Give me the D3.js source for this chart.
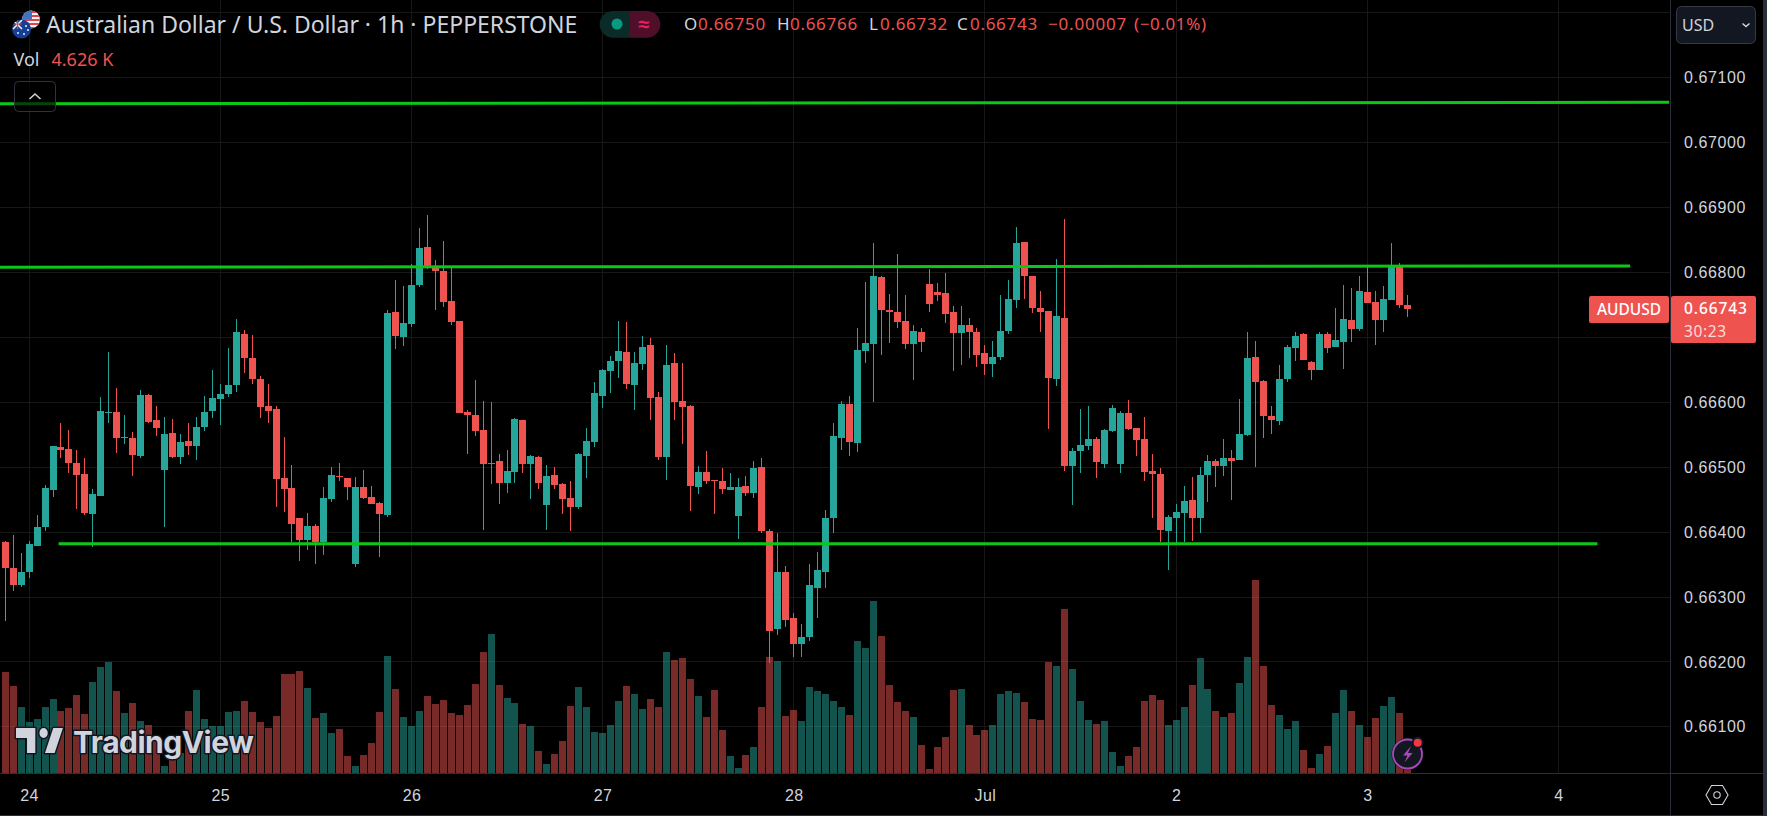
<!DOCTYPE html>
<html>
<head>
<meta charset="utf-8">
<title>AUDUSD 1h</title>
<script src="https://cdn.jsdelivr.net/npm/d3@7"></script>
<style>
  html, body { margin: 0; padding: 0; background: #000; overflow: hidden; }
  svg { display: block; font-family: "Noto Sans", sans-serif; }
  .axis-label { fill: #d1d4dc; font-size: 17px; }
  .axis text { fill: #d1d4dc; font-size: 16px; }
  .grid line { stroke: #171717; shape-rendering: crispEdges; }
  .grid path, .grid text { display: none; }
</style>
</head>
<body>
<svg id="chart" width="1767" height="816"></svg>
<script>
// prices are kept in points (1 point = 0.00001)
const opens = [
  66384,66344,66319,66338,66379,66408,66465,66531,66528,66507,
  66490,66428,66456,66584,66585,66545,66545,66518,66611,66573,
  66496,66553,66516,66541,66533,66562,66587,66605,66613,66627,
  66705,66668,66636,66594,66590,66484,66468,66421,66388,66410,
  66384,66451,66487,66484,66351,66470,66454,66445,66427,66739,
  66701,66721,66781,66839,66810,66802,66756,66725,66585,66581,
  66557,66505,66510,66476,66493,66573,66505,66516,66442,66488,
  66474,66453,66438,66518,66539,66610,66648,66664,66678,66627,
  66659,66688,66608,66516,66661,66602,66594,66470,66493,66481,
  66479,66465,66425,66471,66461,66501,66401,66251,66339,66267,
  66228,66238,66314,66339,66422,66545,66598,66538,66679,66690,
  66793,66742,66739,66725,66690,66708,66782,66770,66768,66739,
  66707,66719,66708,66676,66659,66670,66710,66758,66847,66794,
  66745,66741,66636,66730,66502,66525,66533,66544,66505,66556,
  66505,66584,66561,66544,66494,66490,66402,66422,66430,66450,
  66422,66488,66510,66502,66514,66511,66550,66670,66633,66579,
  66571,66636,66684,66705,66662,66650,66705,66685,66693,66727,
  66713,66770,66754,66727,66758,66808,66750
];
const closes = [
  66344,66318,66339,66381,66408,66468,66533,66527,66507,66488,
  66430,66459,66587,66585,66545,66547,66519,66611,66570,66561,
  66551,66516,66539,66533,66562,66585,66607,66613,66627,66708,
  66668,66636,66593,66587,66482,66467,66413,66388,66410,66384,
  66453,66488,66485,66470,66470,66453,66444,66428,66738,66702,
  66722,66781,66838,66807,66802,66754,66724,66584,66581,66556,
  66505,66507,66476,66494,66574,66505,66518,66476,66487,66473,
  66451,66438,66521,66541,66614,66650,66664,66679,66628,66661,
  66685,66607,66516,66658,66601,66593,66471,66493,66479,66478,
  66467,66470,66470,66461,66499,66401,66248,66339,66265,66228,
  66239,66318,66341,66422,66548,66598,66539,66681,66691,66794,
  66742,66739,66724,66690,66710,66693,66751,66765,66736,66707,
  66719,66708,66673,66659,66670,66710,66759,66845,66794,66745,
  66739,66638,66733,66502,66525,66534,66544,66508,66557,66591,
  66584,66559,66542,66493,66490,66404,66424,66431,66448,66422,
  66488,66510,66502,66514,66510,66551,66668,66631,66579,66573,
  66636,66685,66702,66665,66650,66705,66684,66696,66728,66713,
  66771,66753,66727,66759,66808,66750,66743
];
const highs = [
  66387,66396,66368,66387,66427,66473,66533,66568,66557,66527,
  66514,66467,66608,66678,66622,66581,66554,66619,66613,66594,
  66578,66574,66551,66568,66578,66610,66650,66628,66684,66728,
  66711,66704,66641,66628,66594,66547,66504,66421,66430,66413,
  66470,66501,66507,66484,66485,66496,66471,66447,66742,66788,
  66779,66813,66868,66888,66819,66848,66808,66725,66588,66634,
  66602,66601,66521,66527,66576,66573,66519,66518,66504,66501,
  66476,66478,66522,66561,66631,66651,66671,66725,66724,66678,
  66702,66699,66616,66688,66676,66661,66596,66502,66525,66481,
  66498,66491,66484,66487,66510,66514,66405,66398,66348,66276,
  66258,66351,66370,66434,66568,66602,66610,66714,66785,66845,
  66794,66767,66828,66765,66719,66714,66805,66784,66799,66748,
  66748,66730,66714,66688,66694,66765,66788,66870,66847,66794,
  66771,66741,66821,66882,66530,66590,66594,66547,66559,66596,
  66587,66604,66561,66578,66521,66498,66427,66444,66471,66485,
  66501,66519,66513,66544,66527,66605,66708,66694,66634,66594,
  66658,66688,66708,66707,66664,66708,66708,66745,66781,66776,
  66794,66808,66771,66779,66845,66814,66766
];
const lows = [
  66263,66310,66316,66330,66379,66402,66454,66514,66491,66436,
  66427,66377,66456,66568,66522,66536,66487,66514,66568,66548,
  66408,66514,66505,66519,66511,66556,66576,66565,66608,66616,
  66645,66628,66576,66568,66438,66431,66384,66356,66373,66351,
  66365,66447,66478,66450,66347,66451,66444,66361,66424,66682,
  66687,66716,66778,66805,66742,66747,66719,66584,66521,66548,
  66404,66474,66444,66461,66476,66491,66451,66467,66404,66467,
  66428,66401,66436,66484,66531,66591,66614,66638,66621,66588,
  66650,66573,66511,66481,66573,66536,66433,66458,66474,66428,
  66458,66465,66390,66456,66453,66398,66199,66242,66254,66207,
  66207,66233,66267,66314,66398,66527,66518,66524,66661,66601,
  66673,66691,66714,66682,66634,66678,66739,66756,66722,66648,
  66658,66668,66654,66642,66639,66665,66705,66745,66759,66738,
  66708,66559,66625,66494,66441,66491,66527,66484,66498,66554,
  66491,66557,66518,66478,66421,66385,66342,66381,66384,66387,
  66398,66447,66470,66487,66450,66511,66548,66501,66545,66551,
  66565,66631,66664,66665,66634,66650,66676,66685,66651,66693,
  66710,66753,66688,66708,66758,66745,66732
];
// volume in K
const volumes = [
  91.2,78.6,59.7,46.2,48.9,59.7,66.9,56.1,58.8,70.5,
  53.4,82.2,95.7,100.2,74.1,54.3,63.3,47.1,43.5,33,
  6.6,16.5,18,56.1,75,48.9,42.6,42.6,55.2,56.1,
  65.1,55.2,46.2,40.8,51.6,89.4,89.4,92.1,76.8,49.8,
  54.3,36.3,39.9,15.6,6.6,16.5,27.3,55.2,105.6,75.9,
  50.7,42.6,56.1,69.6,62.4,66,54.3,52.5,61.5,80.4,
  109.2,125.4,79.5,67.8,63.3,44.4,42.6,20.1,8.4,17.4,
  29.1,60.6,77.7,59.7,37.2,36.3,43.5,65.1,78.6,71.4,
  57.9,66.9,59.7,109.2,102,103.8,84.9,69.6,50.7,75,
  39,15.6,4.8,16.5,23.7,59.7,104.7,101.1,51.6,57,
  47.1,77.7,74.1,71.4,65.1,59.7,52.5,119.1,112.8,155.1,
  123.6,79.5,64.2,56.1,50.7,25.5,3.9,23.7,32.7,75,
  75.9,43.5,34.5,39,43.5,71.4,74.1,72.3,64.2,48.9,
  48,100.2,96.6,147.9,93.9,65.1,48,44.4,47.1,19.2,
  6.6,15.6,23.7,65.1,70.5,66,43.5,48,59.7,79.5,
  103.8,75.9,56.1,50.7,54.3,81.3,104.7,174,96.6,61.5,
  52.5,39.9,47.1,21,4.8,17.4,24.6,54.3,75,56.1,
  43.5,32.7,49.8,60.6,68.7,54.3,4.626
];

const priceGrid = [67200,67100,67000,66900,66800,66700,66600,66500,66400,66300,66200,66100];
const priceTicks = [67100,67000,66900,66800,66700,66600,66500,66400,66300,66200,66100];
const dayBars = [3,27,51,75,99,123,147,171,195];
const dayLabels = ['24','25','26','27','28','Jul','2','3','4'];

// the three horizontal levels, in bar index and points
const levelFromBar = [-0.7,-0.7,6.7];
const levelToBar = [208.9,204,199.9];
const levelFromPrice = [67060,66808,66382];
const levelToPrice = [67062,66810,66382];

const ohlcNames = ['O','H','L','C'];
const ohlcValues = ['0.66750','0.66766','0.66732','0.66743'];
const ohlcNameX = [684,777,869,957];
const ohlcValueX = [698,790,880,970];

const upColor = '#26a69a';
const downColor = '#ef5350';
const levelColor = '#0cc816';
const lineColor = '#2a2e39';
const paneRight = 1670, paneBottom = 773;

const svg = d3.select('#chart');
const x = d3.scaleLinear().domain([0,176]).range([5.215,1407.11]);
const y = d3.scaleLinear().domain([67200,66100]).range([12.75,726.87]);
const yVol = d3.scaleLinear().domain([0,174]).range([paneBottom,580]);
const barX = i => Math.floor(x(i));

// grid
const gridY = svg.append('g').attr('class','grid')
  .call(d3.axisRight(y).tickValues(priceGrid).tickSize(paneRight).tickFormat(''));
gridY.selectAll('.tick').attr('transform', d => `translate(0,${Math.floor(y(d))+.5})`);
gridY.selectAll('text').remove();
const gridX = svg.append('g').attr('class','grid')
  .call(d3.axisBottom(x).tickValues(dayBars).tickSize(paneBottom).tickFormat(''));
gridX.selectAll('.tick').attr('transform', d => `translate(${barX(d)+.5},0)`);
gridX.selectAll('text').remove();

// volume
svg.append('g').selectAll('rect').data(volumes).join('rect')
  .attr('x', (d,i) => barX(i)-3)
  .attr('width', 7)
  .attr('y', d => Math.round(yVol(d)))
  .attr('height', d => paneBottom-Math.round(yVol(d)))
  .attr('fill', (d,i) => closes[i] >= opens[i] ? upColor : downColor)
  .attr('fill-opacity', .5)
  .attr('shape-rendering','crispEdges');

// candles
const candle = svg.append('g').attr('shape-rendering','crispEdges')
  .selectAll('g').data(opens).join('g')
  .attr('fill', (d,i) => closes[i] >= d ? upColor : downColor);
candle.append('rect')
  .attr('x', (d,i) => barX(i))
  .attr('width', 1)
  .attr('y', (d,i) => Math.round(y(highs[i])))
  .attr('height', (d,i) => Math.round(y(lows[i]))-Math.round(y(highs[i])));
candle.append('rect')
  .attr('x', (d,i) => barX(i)-3)
  .attr('width', 7)
  .attr('y', (d,i) => Math.round(y(Math.max(d,closes[i]))))
  .attr('height', (d,i) => Math.max(1,Math.round(y(Math.min(d,closes[i])))-Math.round(y(Math.max(d,closes[i])))));

// levels
svg.append('g').selectAll('line').data(levelFromBar).join('line')
  .attr('x1', d => x(d))
  .attr('x2', (d,i) => Math.min(x(levelToBar[i]),paneRight))
  .attr('y1', (d,i) => y(levelFromPrice[i]))
  .attr('y2', (d,i) => y(levelToPrice[i]))
  .attr('stroke', levelColor)
  .attr('stroke-width', 3);

// price axis and time axis
const axisY = svg.append('g').attr('class','axis')
  .attr('transform',`translate(${paneRight},0)`)
  .call(d3.axisRight(y).tickValues(priceTicks).tickSize(0).tickFormat(d => (d/1e5).toFixed(5)));
axisY.select('.domain').remove();
axisY.selectAll('text').attr('x',14).attr('letter-spacing','.6px');

const axisX = svg.append('g').attr('class','axis')
  .attr('transform','translate(0,788)')
  .call(d3.axisBottom(x).tickValues(dayBars).tickSize(0).tickPadding(0)
    .tickFormat((d,i) => dayLabels[i]));
axisX.select('.domain').remove();
axisX.selectAll('text').attr('dy','.35em').attr('y',7).attr('letter-spacing','.4px');

// borders
svg.append('rect').attr('x',paneRight).attr('y',0).attr('width',1).attr('height',816).attr('fill',lineColor);
svg.append('rect').attr('x',0).attr('y',paneBottom).attr('width',1763).attr('height',1).attr('fill',lineColor);
svg.append('rect').attr('x',1763).attr('y',0).attr('width',4).attr('height',816).attr('fill',lineColor);
svg.append('rect').attr('x',0).attr('y',815).attr('width',1767).attr('height',1).attr('fill',lineColor);

// last price labels
svg.append('rect').attr('x',1589).attr('y',296).attr('width',80).attr('height',27).attr('rx',2).attr('fill',downColor);
svg.append('rect').attr('x',1671).attr('y',296).attr('width',85).attr('height',47).attr('rx',2).attr('fill',downColor);
svg.append('text').attr('x',1629).attr('y',310).attr('dy','.35em').attr('text-anchor','middle')
  .attr('fill','#fff').attr('font-size',15.5).attr('font-weight',500).text('AUDUSD');
svg.append('text').attr('x',1684).attr('y',309).attr('dy','.35em')
  .attr('fill','#fff').attr('font-size',15.5).attr('font-weight',500).attr('letter-spacing','.9px').text('0.66743');
svg.append('text').attr('x',1684).attr('y',331.5).attr('dy','.35em')
  .attr('fill','#fbdcdb').attr('font-size',15.5).attr('letter-spacing','.6px').text('30:23');

// currency button
svg.append('rect').attr('x',1676.5).attr('y',6.5).attr('width',79).attr('height',37).attr('rx',5)
  .attr('fill','#131722').attr('stroke','#363a45');
svg.append('text').attr('x',1682).attr('y',25).attr('dy','.35em').attr('fill','#d1d4dc').attr('font-size',16).text('USD');
svg.append('path').attr('d','M1742.5 23.5l3.5 3 3.5-3').attr('fill','none').attr('stroke','#d1d4dc').attr('stroke-width',1.5);

// settings hexagon
svg.append('path').attr('d','M1706 795l5.5-9.5h11l5.5 9.5-5.5 9.5h-11z').attr('fill','none').attr('stroke','#d1d4dc').attr('stroke-width',1.1);
svg.append('circle').attr('cx',1717).attr('cy',795).attr('r',3.2).attr('fill','none').attr('stroke','#d1d4dc').attr('stroke-width',1.1);

// header
svg.append('text').attr('x',46).attr('y',24.5).attr('dy','.35em').attr('fill','#d1d4dc').attr('font-size',23)
  .text('Australian Dollar / U.S. Dollar · 1h · PEPPERSTONE');
svg.append('text').attr('x',13.5).attr('y',60).attr('dy','.35em').attr('fill','#d1d4dc').attr('font-size',18).text('Vol');
svg.append('text').attr('x',51.5).attr('y',60).attr('dy','.35em').attr('fill',downColor).attr('font-size',18).text('4.626 K');

// flags
const defs = svg.append('defs');
defs.append('clipPath').attr('id','usClip').append('circle').attr('cx',31).attr('cy',19.5).attr('r',9);
defs.append('clipPath').attr('id','auClip').append('circle').attr('cx',21.5).attr('cy',29).attr('r',9.5);
const us = svg.append('g').attr('clip-path','url(#usClip)');
us.append('rect').attr('x',20).attr('y',9).attr('width',22).attr('height',22).attr('fill','#f5f5f5');
d3.range(5).forEach(k => us.append('rect').attr('x',20).attr('y',11+k*4).attr('width',22).attr('height',2).attr('fill','#e2434b'));
us.append('rect').attr('x',20).attr('y',9).attr('width',12).attr('height',10).attr('fill','#3f73c4');
const au = svg.append('g').attr('clip-path','url(#auClip)');
au.append('circle').attr('cx',21.5).attr('cy',29).attr('r',10).attr('fill','#143f95');
au.append('path').attr('d','M13 20l9 9M22 20l-9 9').attr('stroke','#f5f5f5').attr('stroke-width',1.5);
au.append('path').attr('d','M17.5 19v10M12 24h10').attr('stroke','#e2434b').attr('stroke-width',1.2);
[[26,26],[24,34],[28,30],[18,33]].forEach(p => au.append('circle').attr('cx',p[0]).attr('cy',p[1]).attr('r',.9).attr('fill','#fff'));

// status pill
svg.append('path').attr('d','M630 11h-17a13.3 13.3 0 0 0 0 26.7h17z').attr('fill','#0a2b28');
svg.append('path').attr('d','M630 11h17a13.3 13.3 0 0 1 0 26.7h-17z').attr('fill','#4f0f28');
svg.append('circle').attr('cx',617).attr('cy',24).attr('r',5.5).attr('fill','#089981');
svg.append('text').attr('x',644).attr('y',24).attr('dy','.35em').attr('text-anchor','middle')
  .attr('fill','#e91e63').attr('font-size',20).attr('font-weight',700).text('≈');

// OHLC legend
svg.append('g').selectAll('text').data(ohlcNames).join('text')
  .attr('x',(d,i) => ohlcNameX[i]).attr('y',24).attr('dy','.35em').attr('class','axis-label').text(d => d);
svg.append('g').selectAll('text').data(ohlcValues).join('text')
  .attr('x',(d,i) => ohlcValueX[i]).attr('y',24).attr('dy','.35em')
  .attr('fill',downColor).attr('font-size',17).attr('letter-spacing','.7px').text(d => d);
svg.append('text').attr('x',1048).attr('y',24).attr('dy','.35em').attr('fill',downColor).attr('font-size',17).attr('letter-spacing','.8px').text('−0.00007');
svg.append('text').attr('x',1134).attr('y',24).attr('dy','.35em').attr('fill',downColor).attr('font-size',17).attr('letter-spacing','.6px').text('(−0.01%)');

// collapse button
svg.append('rect').attr('x',14.5).attr('y',81.5).attr('width',41).attr('height',30).attr('rx',4)
  .attr('fill','#000').attr('fill-opacity',.65).attr('stroke','#2f3340');
svg.append('path').attr('d','M29.5 99l5.5-5 5.5 5').attr('fill','none').attr('stroke','#d1d4dc').attr('stroke-width',1.5);

// watermark
const wm = svg.append('g').attr('fill','#d1d4dc').attr('stroke','#131722').attr('stroke-width',3).attr('paint-order','stroke').attr('stroke-linejoin','round');
wm.append('path')
  .attr('transform','translate(16,728) scale(1.38,1.67) translate(0,-6)')
  .attr('vector-effect','non-scaling-stroke')
  .attr('d','M14 6H0v6h8v9h6V6ZM28 21h-7L27 6h7l-6 15ZM20 12a3 3 0 1 0 0-6 3 3 0 0 0 0 6Z');
wm.append('text').attr('x',73).attr('y',753).attr('font-family','Inter').attr('font-weight',700).attr('font-size',30).attr('letter-spacing','-.5px')
  .text('TradingView');

// lightning badge
svg.append('circle').attr('cx',1407.5).attr('cy',754).attr('r',16).attr('fill','#131722');
svg.append('circle').attr('cx',1407.5).attr('cy',754).attr('r',14.5).attr('fill','none').attr('stroke','#ab47bc').attr('stroke-width',1.8);
svg.append('path').attr('d','M1411 746l-8 9.5h4.5l-3 7 8-9.5h-4.5z').attr('fill','#ab47bc');
svg.append('circle').attr('cx',1417.7).attr('cy',742.7).attr('r',6).attr('fill','#131722');
svg.append('circle').attr('cx',1417.7).attr('cy',742.7).attr('r',4).attr('fill','#f23645');
</script>
</body>
</html>
